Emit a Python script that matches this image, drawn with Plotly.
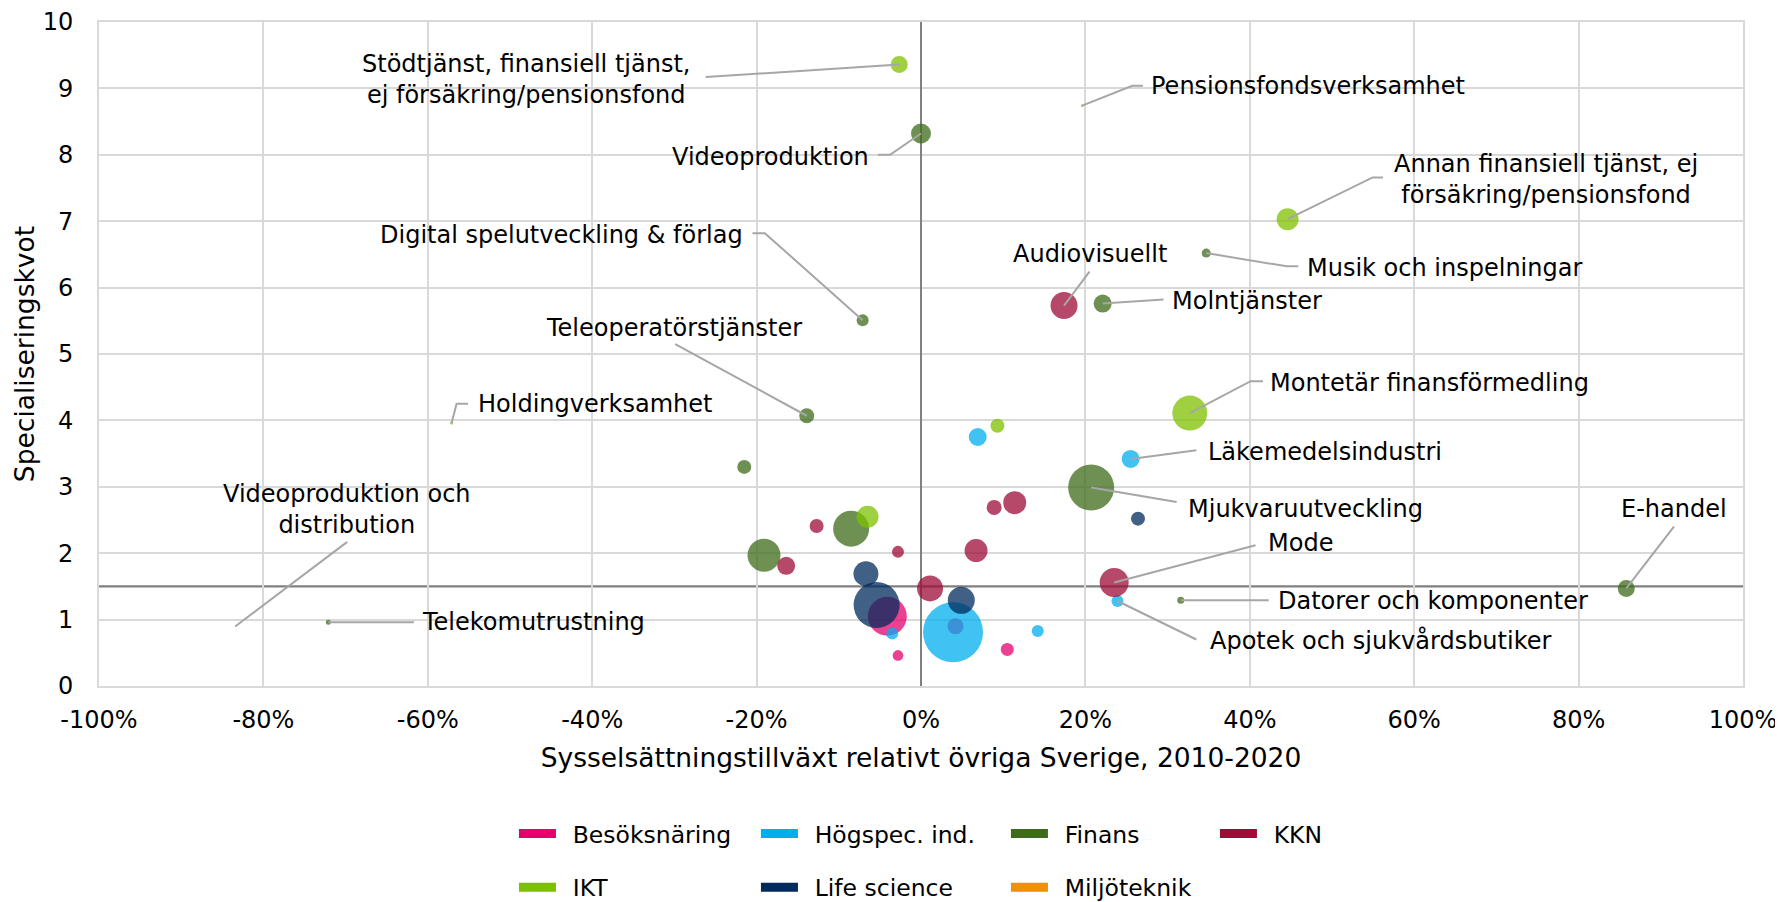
import plotly.graph_objects as go

# ---------------- DATA ----------------
kategorier = ["Besöksnäring", "Högspec. ind.", "Finans", "KKN", "IKT", "Life science", "Miljöteknik"]
farger = ["#e5006e", "#00aeef", "#3e6b1a", "#9e0b37", "#7dc000", "#002b5c", "#ef9100"]

# Sysselsättningstillväxt relativt övriga Sverige (%), specialiseringskvot, antal sysselsatta
bes_namn = ["", "", "", ""]
bes_x = [-4.1, -2.8, 10.5, 4.2]
bes_y = [1.05, 0.46, 0.55, 0.90]
bes_syss = [7600, 570, 850, 1280]

hog_namn = ["", "Läkemedelsindustri", "", "", "", "Apotek och sjukvårdsbutiker"]
hog_x = [6.9, 25.5, 3.9, -3.5, 14.2, 23.9]
hog_y = [3.75, 3.42, 0.81, 0.79, 0.83, 1.28]
hog_syss = [1620, 1620, 18000, 720, 720, 720]

fin_namn = ["Videoproduktion", "Digital spelutveckling & förlag", "Molntjänster",
            "Teleoperatörstjänster", "Musik och inspelningar", "", "Mjukvaruutveckling",
            "", "", "Datorer och komponenter", "E-handel", "Telekomutrustning"]
fin_x = [0.0, -7.1, 22.1, -13.9, 34.7, -21.5, 20.7, -8.5, -19.1, 31.6, 85.8, -72.1]
fin_y = [8.32, 5.51, 5.76, 4.07, 6.52, 3.30, 2.99, 2.37, 1.97, 1.29, 1.47, 0.96]
fin_syss = [2000, 720, 1620, 1125, 405, 980, 10580, 6480, 5445, 245, 1445, 125]

kkn_namn = ["Audiovisuellt", "", "", "", "", "", "", "", "Mode", "Videoproduktion och distribution"]
kkn_x = [17.4, 8.9, 11.4, -12.7, -16.4, -2.8, 6.7, 1.1, 23.5, -83.4]
kkn_y = [5.73, 2.69, 2.76, 2.41, 1.81, 2.02, 2.04, 1.47, 1.56, 0.90]
kkn_syss = [3645, 1125, 2645, 980, 1620, 720, 2645, 3380, 4205, 5]

ikt_namn = ["Stödtjänst, finansiell tjänst, ej försäkring/pensionsfond", "Pensionsfondsverksamhet",
            "Annan finansiell tjänst, ej försäkring/pensionsfond", "Montetär finansförmedling",
            "", "", "Holdingverksamhet"]
ikt_x = [-2.65, 19.6, 44.6, 32.7, 9.3, -6.5, -57.1]
ikt_y = [9.36, 8.74, 7.03, 4.11, 3.92, 2.55, 3.96]
ikt_syss = [1445, 30, 2420, 6125, 980, 2420, 45]

life_namn = ["", "", "", ""]
life_x = [26.4, -6.7, -5.4, 4.9]
life_y = [2.52, 1.69, 1.22, 1.29]
life_syss = [980, 3125, 10580, 3645]

milj_namn, milj_x, milj_y, milj_syss = [], [], [], []

x_tickvals = [-100, -80, -60, -40, -20, 0, 20, 40, 60, 80, 100]
x_ticktext = ["-100%", "-80%", "-60%", "-40%", "-20%", "0%", "20%", "40%", "60%", "80%", "100%"]
y_tickvals = [0, 1, 2, 3, 4, 5, 6, 7, 8, 9, 10]
y_ticktext = ["0", "1", "2", "3", "4", "5", "6", "7", "8", "9", "10"]
y_referens = 1.5

serier = [
    (bes_namn, bes_x, bes_y, bes_syss),
    (hog_namn, hog_x, hog_y, hog_syss),
    (fin_namn, fin_x, fin_y, fin_syss),
    (kkn_namn, kkn_x, kkn_y, kkn_syss),
    (ikt_namn, ikt_x, ikt_y, ikt_syss),
    (life_namn, life_x, life_y, life_syss),
    (milj_namn, milj_x, milj_y, milj_syss),
]

# ---------------- LABEL LAYOUT ----------------
# (point name, label text, label centre x, label centre y, leader elbow points from label side)
etiketter = [
    ("Stödtjänst, finansiell tjänst, ej försäkring/pensionsfond",
     "Stödtjänst, finansiell tjänst,<br>ej försäkring/pensionsfond", -48.1, 9.13, [(-26.2, 9.17)]),
    ("Videoproduktion", "Videoproduktion", -18.3, 7.97, [(-5.26, 8.0), (-3.77, 8.0)]),
    ("Pensionsfondsverksamhet", "Pensionsfondsverksamhet", 47.1, 9.03, [(27.0, 9.04), (25.7, 9.04)]),
    ("Digital spelutveckling & förlag", "Digital spelutveckling & förlag", -43.7, 6.79,
     [(-20.5, 6.82), (-19.0, 6.82)]),
    ("Audiovisuellt", "Audiovisuellt", 20.5, 6.51, [(20.5, 6.24)]),
    ("Molntjänster", "Molntjänster", 39.7, 5.80, [(29.5, 5.82)]),
    ("Teleoperatörstjänster", "Teleoperatörstjänster", -30.1, 5.39, [(-29.9, 5.15)]),
    ("Holdingverksamhet", "Holdingverksamhet", -39.7, 4.25, [(-55.1, 4.25), (-56.5, 4.25)]),
    ("Annan finansiell tjänst, ej försäkring/pensionsfond",
     "Annan finansiell tjänst, ej<br>försäkring/pensionsfond", 76.0, 7.63, [(56.2, 7.66), (54.95, 7.66)]),
    ("Musik och inspelningar", "Musik och inspelningar", 63.7, 6.30, [(45.9, 6.32), (44.5, 6.32)]),
    ("Montetär finansförmedling", "Montetär finansförmedling", 61.9, 4.57, [(41.6, 4.59), (40.1, 4.59)]),
    ("Läkemedelsindustri", "Läkemedelsindustri", 49.1, 3.52, [(33.5, 3.55)]),
    ("Mjukvaruutveckling", "Mjukvaruutveckling", 46.8, 2.67, [(31.1, 2.77)]),
    ("E-handel", "E-handel", 91.6, 2.66, [(91.6, 2.40)]),
    ("Mode", "Mode", 46.2, 2.15, [(40.7, 2.12)]),
    ("Datorer och komponenter", "Datorer och komponenter", 62.3, 1.28, [(42.3, 1.29)]),
    ("Apotek och sjukvårdsbutiker", "Apotek och sjukvårdsbutiker", 55.9, 0.68, [(33.5, 0.70)]),
    ("Telekomutrustning", "Telekomutrustning", -47.1, 0.96, [(-61.7, 0.96)]),
    ("Videoproduktion och distribution", "Videoproduktion och<br>distribution", -69.8, 2.66, [(-69.8, 2.17)]),
]

FONT = "DejaVu Sans"
FS_LBL = 24
FS_TICK = 24
FS_TITLE = 26.5
FS_LEG = 23.5
# legend column widths (px) for the four legend columns
leg_kolumnbredd = [190, 198, 157, 190]

fig = go.Figure()

# bubbles
for (namn, xs, ys, ss), kat, col in zip(serier, kategorier, farger):
    if not xs:
        continue
    fig.add_trace(go.Scatter(
        x=xs, y=ys, mode="markers", name=kat, showlegend=False,
        text=namn, hovertemplate="%{text}<br>%{x}%<br>%{y}<extra>" + kat + "</extra>",
        marker=dict(size=ss, sizemode="area", sizeref=10, sizemin=0,
                    color=col, opacity=0.75, line=dict(width=0)),
    ))

# legend entries (two rows)
for i, (kat, col) in enumerate(zip(kategorier, farger)):
    fig.add_trace(go.Scatter(
        x=[None], y=[None], mode="lines", name="\u2002" + kat,
        line=dict(color=col, width=9),
        legend="legend" if i < 4 else "legend2",
        legendwidth=leg_kolumnbredd[i % 4] if i < 4 else leg_kolumnbredd[i - 4],
    ))

# point lookup
punkter = {}
for namn, xs, ys, ss in serier:
    for n, xv, yv in zip(namn, xs, ys):
        if n:
            punkter[n] = (xv, yv)

shapes = []
annotations = []
for pnamn, txt, lx, ly, elbow in etiketter:
    px, py = punkter[pnamn]
    pts = elbow + [(px, py)]
    path = "M " + " L ".join(f"{a},{b}" for a, b in pts)
    shapes.append(dict(type="path", path=path, xref="x", yref="y",
                       line=dict(color="#a6a6a6", width=2), layer="above"))
    annotations.append(dict(x=lx, y=ly, xref="x", yref="y", text=txt, showarrow=False,
                            align="center", xanchor="center", yanchor="middle",
                            font=dict(family=FONT, size=FS_LBL, color="#000000")))

# reference line at y = 1.5
shapes.append(dict(type="line", xref="paper", yref="y", x0=0, x1=1, y0=y_referens, y1=y_referens,
                   line=dict(color="#808080", width=2.3), layer="between"))

leg_common = dict(orientation="h", x=0.2524, xanchor="left", yanchor="middle",
                  itemwidth=37, entrywidth=190, entrywidthmode="pixels",
                  font=dict(family=FONT, size=FS_LEG, color="#000000"),
                  bgcolor="rgba(0,0,0,0)", tracegroupgap=0)

fig.update_layout(
    width=1775, height=894,
    margin=dict(l=91, r=40, t=14, b=216, autoexpand=False),
    paper_bgcolor="white", plot_bgcolor="white",
    font=dict(family=FONT, size=FS_TICK, color="#000000"),
    shapes=shapes, annotations=annotations,
    xaxis=dict(range=[-100, 100], tickvals=x_tickvals, ticktext=x_ticktext,
               showgrid=True, gridcolor="#d9d9d9", gridwidth=1.8,
               showline=True, mirror=True, linecolor="#d9d9d9", linewidth=1.8,
               zeroline=True, zerolinecolor="#808080", zerolinewidth=2.3,
               ticks="", ticklabelstandoff=11, tickfont=dict(family=FONT, size=FS_TICK),
               title=dict(text="Sysselsättningstillväxt relativt övriga Sverige, 2010-2020",
                          standoff=16, font=dict(family=FONT, size=FS_TITLE))),
    yaxis=dict(range=[0, 10], tickvals=y_tickvals, ticktext=y_ticktext,
               showgrid=True, gridcolor="#d9d9d9", gridwidth=1.8,
               showline=True, mirror=True, linecolor="#d9d9d9", linewidth=1.8,
               zeroline=False, ticks="", ticklabelstandoff=19, tickfont=dict(family=FONT, size=FS_TICK),
               title=dict(text="Specialiseringskvot", standoff=0, font=dict(family=FONT, size=FS_TITLE))),
    legend=dict(y=-0.2225, **leg_common),
    legend2=dict(y=-0.3035, **leg_common),
    hovermode="closest",
)

fig.write_html("out.html")
